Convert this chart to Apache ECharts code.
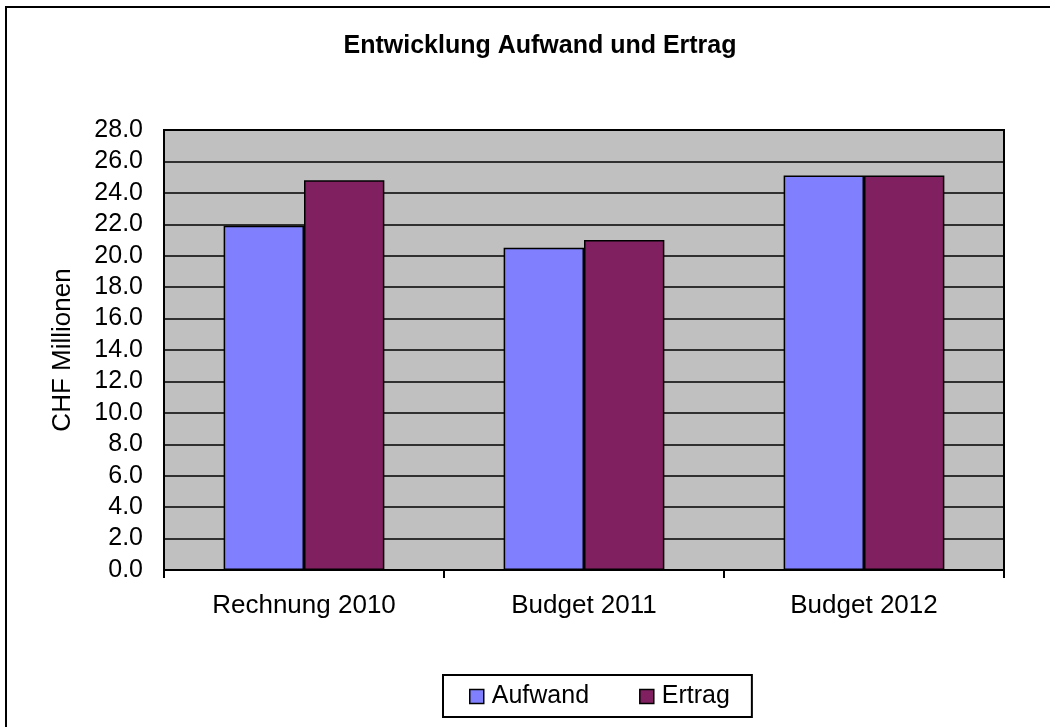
<!DOCTYPE html>
<html>
<head>
<meta charset="utf-8">
<script src="https://cdn.jsdelivr.net/npm/echarts@6/dist/echarts.min.js"></script>
<style>
  html, body { margin: 0; padding: 0; background: #fff; }
  #chart { width: 1050px; height: 727px; }
</style>
</head>
<body>
<div id="chart"></div>
<script>
const categories = ['Rechnung 2010', 'Budget 2011', 'Budget 2012'];
const aufwand = [21.9, 20.5, 25.1];
const ertrag = [24.8, 21.0, 25.1];
const seriesNames = ['Aufwand', 'Ertrag'];
const titleText = 'Entwicklung Aufwand und Ertrag';
const yAxisName = 'CHF Millionen';

const FONT = '"Liberation Sans", Arial, sans-serif';
const chart = echarts.init(document.getElementById('chart'), null, { renderer: 'canvas' });

chart.setOption({
  animation: false,
  backgroundColor: '#ffffff',
  textStyle: { fontFamily: FONT, color: '#000' },
  title: {
    text: titleText,
    left: 535,
    textAlign: 'center',
    top: 29,
    textStyle: { fontFamily: FONT, fontSize: 25, fontWeight: 'bold', color: '#000' }
  },
  graphic: [{
    type: 'rect',
    shape: { x: 6, y: 7, width: 1200, height: 900 },
    style: { fill: 'none', stroke: '#000', lineWidth: 2 },
    silent: true,
    z: 100
  }],
  legend: {
    left: 443,
    top: 675,
    orient: 'horizontal',
    padding: [9, 22, 8, 26],
    itemGap: 50,
    itemWidth: 14,
    itemHeight: 14,
    borderColor: '#000',
    borderWidth: 2,
    backgroundColor: '#fff',
    icon: 'rect',
    itemStyle: { borderColor: '#000', borderWidth: 1.5 },
    textStyle: { fontFamily: FONT, fontSize: 25, color: '#000', padding: [0, 0, 0, 3] },
    data: seriesNames
  },
  grid: {
    left: 164,
    right: 46,
    top: 130,
    bottom: 157,
    show: true,
    backgroundColor: '#C0C0C0',
    borderColor: '#000',
    borderWidth: 2
  },
  xAxis: {
    type: 'category',
    data: categories,
    axisLine: { show: true, lineStyle: { color: '#000', width: 2 } },
    axisTick: { show: true, length: 8, lineStyle: { color: '#000', width: 2 } },
    axisLabel: { fontFamily: FONT, fontSize: 26, color: '#000', margin: 23 },
    splitLine: { show: false }
  },
  yAxis: {
    type: 'value',
    min: 0,
    max: 28,
    interval: 2,
    name: yAxisName,
    nameLocation: 'middle',
    nameRotate: 90,
    nameGap: 88,
    nameTextStyle: { fontFamily: FONT, fontSize: 26, color: '#000' },
    axisLine: { show: true, lineStyle: { color: '#000', width: 2 } },
    axisTick: { show: false },
    axisLabel: {
      fontFamily: FONT, fontSize: 25, color: '#000', margin: 21,
      formatter: v => v.toFixed(1)
    },
    splitLine: { show: true, lineStyle: { color: '#000', width: 1.5 } }
  },
  series: [
    {
      name: seriesNames[0],
      type: 'bar',
      data: aufwand,
      barGap: '0%',
      barCategoryGap: '42.6%',
      itemStyle: { color: '#8080FF', borderColor: '#000', borderWidth: 1.5 }
    },
    {
      name: seriesNames[1],
      type: 'bar',
      data: ertrag,
      barGap: '0%',
      barCategoryGap: '42.6%',
      itemStyle: { color: '#802060', borderColor: '#000', borderWidth: 1.5 }
    }
  ]
});
</script>
</body>
</html>
